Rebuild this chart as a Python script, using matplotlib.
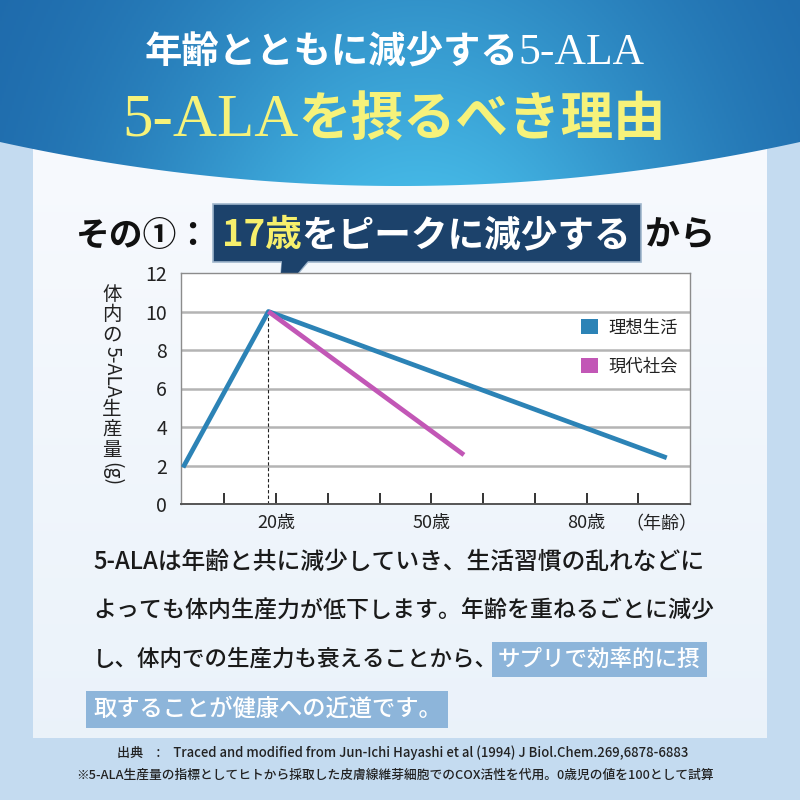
import matplotlib
matplotlib.use('Agg')
import matplotlib.pyplot as plt
import numpy as np
from matplotlib.patches import Rectangle, Polygon, Patch
from matplotlib.transforms import blended_transform_factory

plt.rcParams['font.family'] = ['Noto Sans CJK JP', 'DejaVu Sans']

# ---------------- data ----------------
ideal_age = [2.0, 18.5, 95.5]
ideal_val = [1.9, 10.0, 2.4]
modern_age = [18.5, 56.3]
modern_val = [10.0, 2.55]
peak_age = 18.5
peak_val = 10.0
y_ticks = [0, 2, 4, 6, 8, 10, 12]
x_ticks = [10, 20, 30, 40, 50, 60, 70, 80, 90]
x_label_ages = [20, 50, 80]
x_labels = ['20歳', '50歳', '80歳']
series_names = ['理想生活', '現代社会']
series_colors = ['#2c83b6', '#c257b6']

title1_jp = '年齢とともに減少する'
title1_en = '5-ALA'
title2_en = '5-ALA'
title2_jp = 'を摂るべき理由'
sub_pre = 'その①：'
sub_hl = '17歳'
sub_box = 'をピークに減少する'
sub_post = 'から'
ylabel_parts = [('体', 0), ('内', 0), ('の', 0), ('5-ALA', 1), ('生', 0), ('産', 0), ('量', 0), ('(g)', 1)]
body_lines = [
    [('5-ALAは年齢と共に減少していき、生活習慣の乱れなどに', 0)],
    [('よっても体内生産力が低下します。年齢を重ねるごとに減少', 0)],
    [('し、体内での生産力も衰えることから、', 0), ('サプリで効率的に摂', 1)],
    [('取することが健康への近道です。', 1)],
]
foot1 = '出典　:　Traced and modified from Jun-Ichi Hayashi et al (1994) J Biol.Chem.269,6878-6883'
foot2 = '※5-ALA生産量の指標としてヒトから採取した皮膚線維芽細胞でのCOX活性を代用。0歳児の値を100として試算'

# ---------------- figure ----------------
fig = plt.figure(figsize=(8, 8), dpi=100)
bg = fig.add_axes([0, 0, 1, 1])
bg.set_xlim(0, 800)
bg.set_ylim(800, 0)
bg.axis('off')
bg.add_patch(Rectangle((0, 0), 800, 800, fc='#c4dbf0', ec='none', zorder=0))

# inner panel with soft gradient
panel = np.linspace(0, 1, 200)[:, None] * np.ones((1, 10))
c_top = np.array([0.97, 0.98, 0.995])
c_bot = np.array([0.92, 0.95, 0.98])
img = c_top[None, None, :] * (1 - panel[..., None]) + c_bot[None, None, :] * panel[..., None]
bg.imshow(img, extent=[33, 767, 738, 140], aspect='auto', zorder=1)

# header with curved bottom
xs = np.linspace(0, 800, 200)
arc = 186 - 44 * ((xs - 400) / 400) ** 2
verts = [(0, 0), (800, 0)] + [(x, y) for x, y in zip(xs[::-1], arc[::-1])]
header = Polygon(verts, closed=True, fc='none', ec='none')
bg.add_patch(header)
H, W = 190, 400
gx = np.linspace(0, 800, W)[None, :]
gy = np.linspace(0, 190, H)[:, None]
f = np.exp(-((gx - 420) / 290) ** 2) * (0.55 + 0.45 * gy / 190)
edge = np.array([0.11, 0.40, 0.66])
cent = np.array([0.27, 0.72, 0.90])
himg = edge[None, None, :] * (1 - f[..., None]) + cent[None, None, :] * f[..., None]
im = bg.imshow(himg, extent=[0, 800, 190, 0], aspect='auto', zorder=2)
im.set_clip_path(header)

fig.canvas.draw()
R = fig.canvas.get_renderer()


def width(t):
    return t.get_window_extent(renderer=R).width


def text_width(t):
    # width of the text itself (ignores bbox patch)
    bb = t.get_bbox_patch()
    t.set_bbox(None)
    w = width(t)
    if bb is not None:
        t._bbox_patch = bb
    return w


def fit(pieces, x0, x1, y, zorder=5):
    """Place text pieces in a row on baseline y, scaled so they span x0..x1."""
    objs = [bg.text(x0, y, s, ha='left', va='baseline', zorder=zorder, **kw) for s, kw in pieces]
    total = sum(text_width(t) for t in objs)
    k = (x1 - x0) / total
    for t in objs:
        t.set_fontsize(t.get_fontsize() * k)
    cur = x0
    for t in objs:
        t.set_x(cur)
        cur += text_width(t)
    return objs


# titles
fit([(title1_jp, dict(fontsize=24, color='white', fontweight='bold')),
     (title1_en, dict(fontsize=28, color='white', family=['Liberation Serif']))],
    145, 645, 64)
fit([(title2_en, dict(fontsize=36, color='#f6f27a', family=['Liberation Serif'])),
     (title2_jp, dict(fontsize=31, color='#f6f27a', fontweight='bold'))],
    122, 666, 136)

# subtitle with callout box
bg.add_patch(Rectangle((213, 204), 428, 58, fc='#1c426b', ec='#9fb6cc', lw=1.2, zorder=4))
bg.add_patch(Polygon([(282, 261), (308, 261), (279, 296)], closed=True,
                     fc='#1c426b', ec='none', zorder=4))
bg.plot([282, 279, 308], [262, 296, 262], color='#9fb6cc', lw=1.0, zorder=3)
fit([(sub_pre, dict(fontsize=28, color='#111111', fontweight='bold'))], 75, 210, 246)
fit([(sub_hl, dict(fontsize=28, color='#f6ef6c', fontweight='bold')),
     (sub_box, dict(fontsize=28, color='white', fontweight='bold'))], 222, 632, 246)
fit([(sub_post, dict(fontsize=28, color='#111111', fontweight='bold'))], 645, 715, 246)

# ---------------- chart ----------------
ax = fig.add_axes([181 / 800, 1 - 504 / 800, 509 / 800, 231 / 800], zorder=3)
ax.set_facecolor('white')
ax.set_xlim(1.6, 100)
ax.set_ylim(0, 12)
for yv in y_ticks[1:-1]:
    ax.axhline(yv, color='#b4b4b4', lw=1.8, zorder=1)
ax.plot([peak_age, peak_age], [0, peak_val], color='#222222', lw=0.8, ls=(0, (3, 2)), zorder=2)
ax.plot(ideal_age, ideal_val, color=series_colors[0], lw=3.4, zorder=3, solid_capstyle='butt')
ax.plot(modern_age, modern_val, color=series_colors[1], lw=3.4, zorder=4, solid_capstyle='butt')
ax.set_yticks(y_ticks)
ax.set_yticklabels([str(v) for v in y_ticks], fontsize=14, color='#222222')
ax.tick_params(axis='y', length=0, pad=10)
ax.set_xticks(x_ticks)
ax.set_xticklabels([x_labels[x_label_ages.index(a)] if a in x_label_ages else '' for a in x_ticks],
                   fontsize=13, color='#222222')
ax.tick_params(axis='x', direction='in', length=8, width=1.4, color='#333333', pad=7)
for s in ['top', 'right', 'left']:
    ax.spines[s].set_color('#8c8c8c')
    ax.spines[s].set_linewidth(1.0)
ax.spines['bottom'].set_color('#555555')
ax.spines['bottom'].set_linewidth(1.4)
tr = blended_transform_factory(ax.transData, ax.transAxes)
ax.text(94.5, -0.088, '（年齢）', transform=tr, ha='center', va='center', fontsize=13, color='#222222')
handles = [Patch(fc=c, ec='none') for c in series_colors]
leg = ax.legend(handles, series_names, loc='upper left', bbox_to_anchor=(0.755, 0.87),
                frameon=False, fontsize=12.5, handlelength=1.0, handleheight=1.0,
                handletextpad=0.6, labelspacing=1.2)
for t in leg.get_texts():
    t.set_color('#222222')

# vertical y label (upright kanji, rotated latin)
cur = 285
xc = 112
ylfs = 14
for s, rot in ylabel_parts:
    if rot:
        t = bg.text(0, 0, s, fontsize=ylfs, color='#222222')
        L = width(t)
        t.set_rotation(-90)
        t.set_position((xc, cur + L / 2))
        t.set_ha('center')
        t.set_va('center')
        t.set_rotation_mode('anchor')
        t.set_zorder(5)
        cur += L + 2
    else:
        bg.text(xc, cur + 9.5, s, ha='center', va='center', fontsize=ylfs, color='#222222', zorder=5)
        cur += 20.5

# ---------------- body text ----------------
base_y = [569, 618, 666, 716]
line_end = [705, 712, 700, 442]
for line, by, xe in zip(body_lines, base_y, line_end):
    pieces = []
    for s, hl in line:
        kw = dict(fontsize=16.5, fontweight='medium', color='white' if hl else '#1a1a1a')
        if hl:
            kw['bbox'] = dict(boxstyle='square,pad=0.28', fc='#8db5da', ec='none')
        pieces.append((s, kw))
    fit(pieces, 93, xe, by, zorder=6)

# footnotes
fit([(foot1, dict(fontsize=8.6, color='#222222', fontweight='medium'))], 117, 685, 757)
fit([(foot2, dict(fontsize=8.6, color='#222222', fontweight='medium'))], 76, 709, 779)

fig.savefig('out.png', dpi=100)
